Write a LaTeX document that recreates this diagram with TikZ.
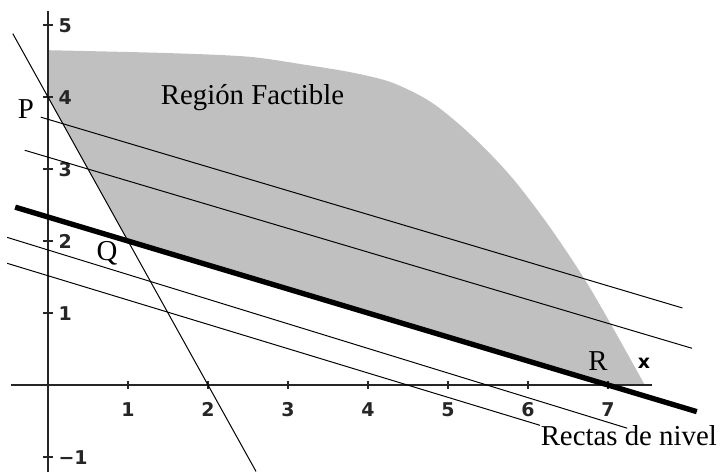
\documentclass[tikz,border=0pt]{standalone}
\usepackage{fontspec}
\setmainfont{Liberation Serif}
\newfontfamily\ticksfont{DejaVu Sans}
\definecolor{regiongray}{RGB}{192,192,192}
\tikzset{
  lbl/.style={font=\fontsize{20.5}{24}\selectfont, inner sep=0pt, anchor=base},
  ticklbl/.style={font=\ticksfont\bfseries\fontsize{13.5}{16}\selectfont, inner sep=0pt},
  eje/.style={line width=0.8pt, black!85},
  nivel/.style={line width=0.7pt},
  optima/.style={line width=3.8pt},
}

\begin{document}
\begin{tikzpicture}[x=2cm,y=1.8cm]
			\useasboundingbox (-0.6,-1.2083) rectangle (8.475,5.3472);
			% region factible
			\fill[regiongray] (0,4) -- plot[smooth] coordinates {(0,4.65) (1.5,4.61) (2.5,4.56) (3.2,4.45) (3.8,4.34) (4.3,4.2) (4.8,3.92) (5.3,3.46) (5.8,2.88) (6.3,2.15) (6.8,1.3) (7.46,0)} -- (7,0) -- (1,2) -- cycle;
			% ejes
			\draw[eje] (-0.46,0) -- (7.55,0);
			\draw[eje] (0,-1.21) -- (0,5.2);
			\draw[eje] (1,0.056) -- (1,-0.056) node[ticklbl, anchor=base] (lx1) at (1,-0.444) {1};
			\draw[eje] (2,0.056) -- (2,-0.056) node[ticklbl, anchor=base] (lx2) at (2,-0.444) {2};
			\draw[eje] (3,0.056) -- (3,-0.056) node[ticklbl, anchor=base] (lx3) at (3,-0.444) {3};
			\draw[eje] (4,0.056) -- (4,-0.056) node[ticklbl, anchor=base] (lx4) at (4,-0.444) {4};
			\draw[eje] (5,0.056) -- (5,-0.056) node[ticklbl, anchor=base] (lx5) at (5,-0.444) {5};
			\draw[eje] (6,0.056) -- (6,-0.056) node[ticklbl, anchor=base] (lx6) at (6,-0.444) {6};
			\draw[eje] (7,0.056) -- (7,-0.056) node[ticklbl, anchor=base] (lx7) at (7,-0.444) {7};
			\draw[eje] (-0.0625,-1) -- (0.0625,-1) node[ticklbl, anchor=base west] (lym1) at (0.125,-1.1) {−1};
			\draw[eje] (-0.0625,1) -- (0.0625,1) node[ticklbl, anchor=base west] (ly1) at (0.125,0.9) {1};
			\draw[eje] (-0.0625,2) -- (0.0625,2) node[ticklbl, anchor=base west] (ly2) at (0.125,1.9) {2};
			\draw[eje] (-0.0625,3) -- (0.0625,3) node[ticklbl, anchor=base west] (ly3) at (0.125,2.9) {3};
			\draw[eje] (-0.0625,4) -- (0.0625,4) node[ticklbl, anchor=base west] (ly4) at (0.125,3.9) {4};
			\draw[eje] (-0.0625,5) -- (0.0625,5) node[ticklbl, anchor=base west] (ly5) at (0.125,4.9) {5};
			\node[ticklbl, anchor=base] (ejex) at (7.45,0.236) {x};
			% restriccion
			\draw[nivel] (-0.44,4.88) -- (2.6,-1.2);
			% rectas de nivel
			\draw[nivel] (-0.09,3.72) -- (7.93,1.07);
			\draw[nivel] (-0.29,3.26) -- (8.05,0.51);
			\draw[optima] (-0.41,2.47) -- (8.11,-0.37);
			\draw[nivel] (-0.51,2.05) -- (7.24,-0.6);
			\draw[nivel] (-0.51,1.69) -- (6.15,-0.56);
			% vertices
			\node[lbl] (P) at (-0.275,3.708) {P};
			\node[lbl] (Q) at (0.7375,1.736) {Q};
			\node[lbl] (R) at (6.875,0.208) {R};
			\node[lbl] (region) at (2.556,3.889) {Región Factible};
			\node[lbl] (rectas) at (7.26,-0.847) {Rectas de nivel};
		\end{tikzpicture}
\end{document}
